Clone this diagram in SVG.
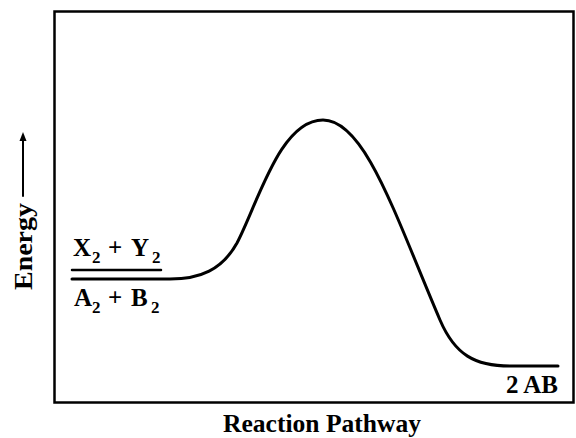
<svg xmlns="http://www.w3.org/2000/svg" width="576" height="438" viewBox="0 0 576 438">
<style>
.t{font-family:"Liberation Serif","Times New Roman",serif;font-weight:bold;fill:#000}
.m{font-size:25px}
.s{font-size:17px}
.ln{stroke:#000;fill:none;stroke-linecap:round}
</style>
<rect width="576" height="438" fill="#fff"/>
<g id="frame">
<rect x="54.5" y="11.5" width="519" height="391" class="ln" stroke-width="2.5"/>
</g>
<g id="connectors">
<path class="ln" stroke-width="3" d="M72,279 L170,279 C200,279 222,270 237,243 C258,203 280,120 323,120 C365,120 395,215 440,320 C455,355 475,366 510,366 L558,366"/>
<line class="ln" x1="72" y1="270" x2="161" y2="270" stroke-width="2.5"/>
<line class="ln" x1="23" y1="196" x2="23" y2="140" stroke-width="2"/>
<polygon points="23,132 19.5,141 26.5,141" fill="#000"/>
</g>
<g id="reactants-xy">
<text class="t m" y="256"><tspan x="73">X</tspan><tspan class="s" x="92" y="263">2</tspan><tspan x="108" y="256">+</tspan><tspan x="131">Y</tspan><tspan class="s" x="152" y="263">2</tspan></text>
</g>
<g id="reactants-ab">
<text class="t m" y="306"><tspan x="74">A</tspan><tspan class="s" x="92" y="313">2</tspan><tspan x="108" y="306">+</tspan><tspan x="131">B</tspan><tspan class="s" x="151" y="313">2</tspan></text>
</g>
<g id="product">
<text class="t m" x="558" y="393" text-anchor="end">2 AB</text>
</g>
<g id="axis-labels">
<text class="t" font-size="26" x="0" y="0" text-anchor="middle" transform="translate(32,246.5) rotate(-90)" textLength="87" lengthAdjust="spacingAndGlyphs">Energy</text>
<text class="t" font-size="25" x="322" y="432" text-anchor="middle" textLength="198" lengthAdjust="spacingAndGlyphs">Reaction Pathway</text>
</g>
</svg>
